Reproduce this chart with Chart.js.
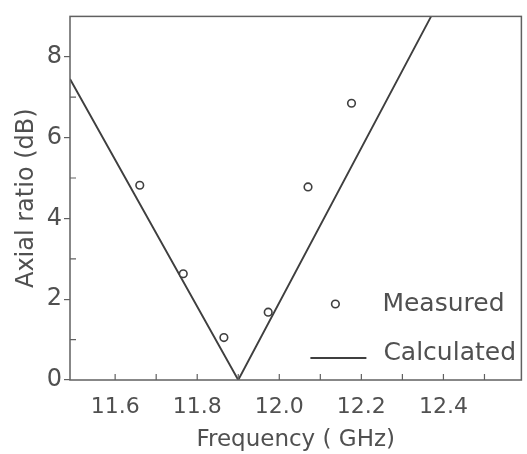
<!DOCTYPE html>
<html>
<head>
<meta charset="utf-8">
<script src="https://cdn.jsdelivr.net/npm/chart.js@4.4.0/dist/chart.umd.min.js"></script>
<style>
  html, body { margin: 0; padding: 0; background: #fff; }
  #wrap { width: 527px; height: 454px; }
</style>
</head>
<body>
<div id="wrap"><canvas id="chart" width="527" height="454"></canvas></div>
<script>
// measured axial ratio (GHz, dB)
var measuredFreq = [11.66, 11.766, 11.865, 11.973, 12.07, 12.176];
var measuredAR = [4.82, 2.63, 1.05, 1.68, 4.78, 6.85];
// calculated curve (V shape)
var calcFreq = [11.49, 11.9, 12.37];
var calcAR = [7.45, 0, 9.0];
// tick labels and minor tick marks
var xTickValues = [11.6, 11.8, 12.0, 12.2, 12.4];
var xMinorTicks = [11.6, 11.7, 11.8, 11.9, 12.0, 12.1, 12.2, 12.3, 12.4, 12.5];
var yTickValues = [0, 2, 4, 6, 8];
var yMinorTicks = [1, 3, 5, 7];

var ink = '#3f3f3f';
var textInk = '#505050';

var frameAndLegend = {
    id: 'frameAndLegend',
    afterDraw: function (chart) {
        let ctx = chart.ctx;
        let a = chart.chartArea;
        let xs = chart.scales.x, ys = chart.scales.y;
        ctx.save();
        ctx.strokeStyle = '#606060';
        ctx.lineWidth = 1.5;
        ctx.strokeRect(a.left, a.top, a.right - a.left, a.bottom - a.top);
        // inward ticks
        ctx.lineWidth = 1.2;
        ctx.beginPath();
        for (let v of xMinorTicks) {
            let px = xs.getPixelForValue(v);
            ctx.moveTo(px, a.bottom);
            ctx.lineTo(px, a.bottom - 6);
        }
        for (let v of yMinorTicks) {
            let py = ys.getPixelForValue(v);
            ctx.moveTo(a.left, py);
            ctx.lineTo(a.left + 6, py);
        }
        ctx.stroke();
        // legend inside plot, bottom right
        let lx = a.right - 186, ly1 = a.bottom - 76, ly2 = a.bottom - 27;
        ctx.strokeStyle = ink;
        ctx.lineWidth = 1.6;
        ctx.beginPath();
        ctx.arc(lx, ly1, 3.8, 0, Math.PI * 2);
        ctx.stroke();
        ctx.lineWidth = 1.8;
        ctx.beginPath();
        ctx.moveTo(lx - 25, ly2 + 5);
        ctx.lineTo(lx + 31, ly2 + 5);
        ctx.stroke();
        ctx.fillStyle = textInk;
        ctx.font = '25px "DejaVu Sans"';
        ctx.textBaseline = 'middle';
        ctx.fillText('Measured', lx + 47, ly1);
        ctx.fillText('Calculated', lx + 48, ly2);
        ctx.restore();
    }
};

let ctx = document.getElementById('chart').getContext('2d');
new Chart(ctx, {
    type: 'scatter',
    data: {
        datasets: [
            {
                label: 'Measured',
                data: measuredFreq.map((f, i) => ({x: f, y: measuredAR[i]})),
                pointStyle: 'circle',
                pointRadius: 3.8,
                pointBorderWidth: 1.6,
                pointBackgroundColor: '#fff',
                pointBorderColor: ink,
                showLine: false
            },
            {
                label: 'Calculated',
                data: calcFreq.map((f, i) => ({x: f, y: calcAR[i]})),
                showLine: true,
                borderColor: ink,
                borderWidth: 1.9,
                pointRadius: 0,
                tension: 0
            }
        ]
    },
    options: {
        responsive: false,
        animation: false,
        devicePixelRatio: 1,
        layout: {padding: {top: 10, right: 4, left: 0, bottom: 0}},
        plugins: {
            legend: {display: false},
            tooltip: {enabled: false}
        },
        scales: {
            x: {
                type: 'linear',
                min: 11.49,
                max: 12.59,
                afterBuildTicks: s => { s.ticks = xTickValues.map(v => ({value: v})); },
                afterFit: s => { s.height = 74; },
                grid: {display: false, drawTicks: false},
                border: {display: false},
                ticks: {
                    padding: 14,
                    color: textInk,
                    font: {family: 'DejaVu Sans', size: 22},
                    callback: v => v.toFixed(1)
                },
                title: {
                    display: true,
                    text: 'Frequency ( GHz)',
                    color: textInk,
                    font: {family: 'DejaVu Sans', size: 23},
                    padding: {top: 0, bottom: 0}
                }
            },
            y: {
                min: 0,
                max: 9,
                afterBuildTicks: s => { s.ticks = yTickValues.map(v => ({value: v})); },
                afterFit: s => { s.width = 70; },
                grid: {drawOnChartArea: false, drawTicks: true, tickLength: 6, color: '#606060', lineWidth: 1.2},
                border: {display: false},
                ticks: {
                    padding: 2,
                    color: textInk,
                    font: {family: 'DejaVu Sans', size: 24}
                },
                title: {
                    display: true,
                    text: 'Axial ratio (dB)',
                    color: textInk,
                    font: {family: 'DejaVu Sans', size: 24},
                    padding: {top: 12, bottom: 0}
                }
            }
        }
    },
    plugins: [frameAndLegend]
});
</script>
</body>
</html>
